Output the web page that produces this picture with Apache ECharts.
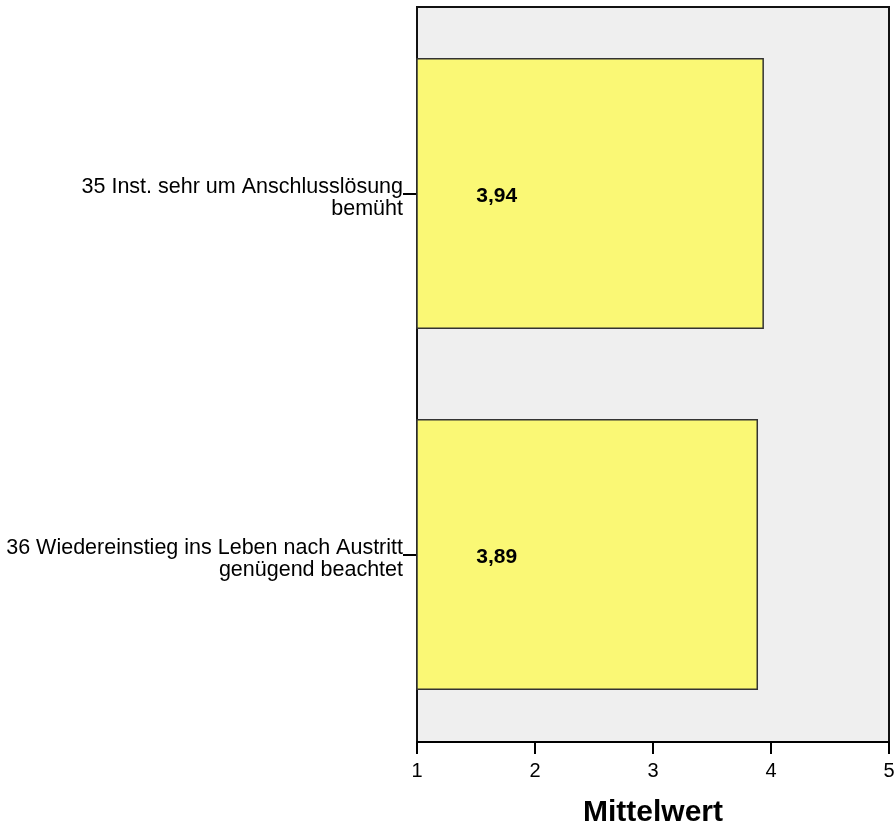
<!DOCTYPE html>
<html>
<head>
<meta charset="utf-8">
<script src="https://cdn.jsdelivr.net/npm/echarts@6/dist/echarts.min.js"></script>
<style>
  html, body { margin: 0; padding: 0; background: #ffffff; overflow: hidden; }
  #chart { width: 894px; height: 827px; }
</style>
</head>
<body>
<div id="chart"></div>
<script>
// Items (top to bottom) and their mean scores
const categories = [
  '35 Inst. sehr um Anschlusslösung\nbemüht',
  '36 Wiedereinstieg ins Leben nach Austritt\ngenügend beachtet'
];
const meanValues = [3.94, 3.89];
const xTicks = [1, 2, 3, 4, 5];
const axisTitle = 'Mittelwert';

const FONT = "'Liberation Sans', Arial, sans-serif";

// Plot frame (grey panel) and the inner area used by the bar axes
const FRAME = { left: 417, top: 7, right: 889, bottom: 742 };
const INNER_TOP = 13, INNER_BOTTOM = 735;

const labelFont = { fontFamily: FONT, fontSize: 21.5, color: '#000', lineHeight: 22 };

const chart = echarts.init(document.getElementById('chart'), null, { renderer: 'canvas' });

chart.setOption({
  animation: false,
  backgroundColor: '#ffffff',
  graphic: [{
    type: 'rect',
    z: -10,
    silent: true,
    shape: {
      x: FRAME.left, y: FRAME.top,
      width: FRAME.right - FRAME.left, height: FRAME.bottom - FRAME.top
    },
    style: { fill: '#efefef', stroke: '#111111', lineWidth: 2 }
  }],
  grid: {
    left: FRAME.left,
    right: 894 - FRAME.right,
    top: INNER_TOP,
    bottom: 827 - INNER_BOTTOM,
    show: false,
    containLabel: false,
    outerBoundsMode: 'none'
  },
  xAxis: {
    type: 'value',
    min: xTicks[0],
    max: xTicks[xTicks.length - 1],
    interval: 1,
    offset: FRAME.bottom - INNER_BOTTOM,
    name: axisTitle,
    nameLocation: 'middle',
    nameGap: 56,
    nameTextStyle: { fontFamily: FONT, fontSize: 30, fontWeight: 'bold', color: '#000' },
    axisLine: { show: true, lineStyle: { color: '#000', width: 2 } },
    axisTick: { show: true, length: 12, lineStyle: { color: '#000', width: 2 } },
    axisLabel: {
      fontFamily: FONT, fontSize: 20, color: '#000', margin: 19,
      formatter: v => String(v)
    },
    splitLine: { show: false }
  },
  yAxis: {
    type: 'category',
    data: categories,
    inverse: true,
    axisLine: { show: false },
    axisTick: { show: true, alignWithLabel: true, length: 14, lineStyle: { color: '#000', width: 2 } },
    axisLabel: {
      ...labelFont,
      margin: 14,
      align: 'right',
      // a short spacer line on top keeps the first text line just above the tick
      formatter: v => {
        const [first, second] = v.split('\n');
        return '{s| }\n{t|' + first + '}\n{t|' + second + '}';
      },
      rich: {
        s: { fontFamily: FONT, fontSize: 8, lineHeight: 10 },
        t: { ...labelFont }
      }
    },
    splitLine: { show: false }
  },
  series: [{
    type: 'bar',
    data: meanValues,
    barWidth: 271,
    itemStyle: { color: '#faf875', borderColor: '#333333', borderWidth: 1.5 },
    label: {
      show: true,
      position: [60, '50%'],
      offset: [0, 3],
      verticalAlign: 'middle',
      fontFamily: FONT,
      fontSize: 21,
      fontWeight: 'bold',
      color: '#000',
      formatter: p => p.value.toFixed(2).replace('.', ',')
    }
  }]
});
</script>
</body>
</html>
